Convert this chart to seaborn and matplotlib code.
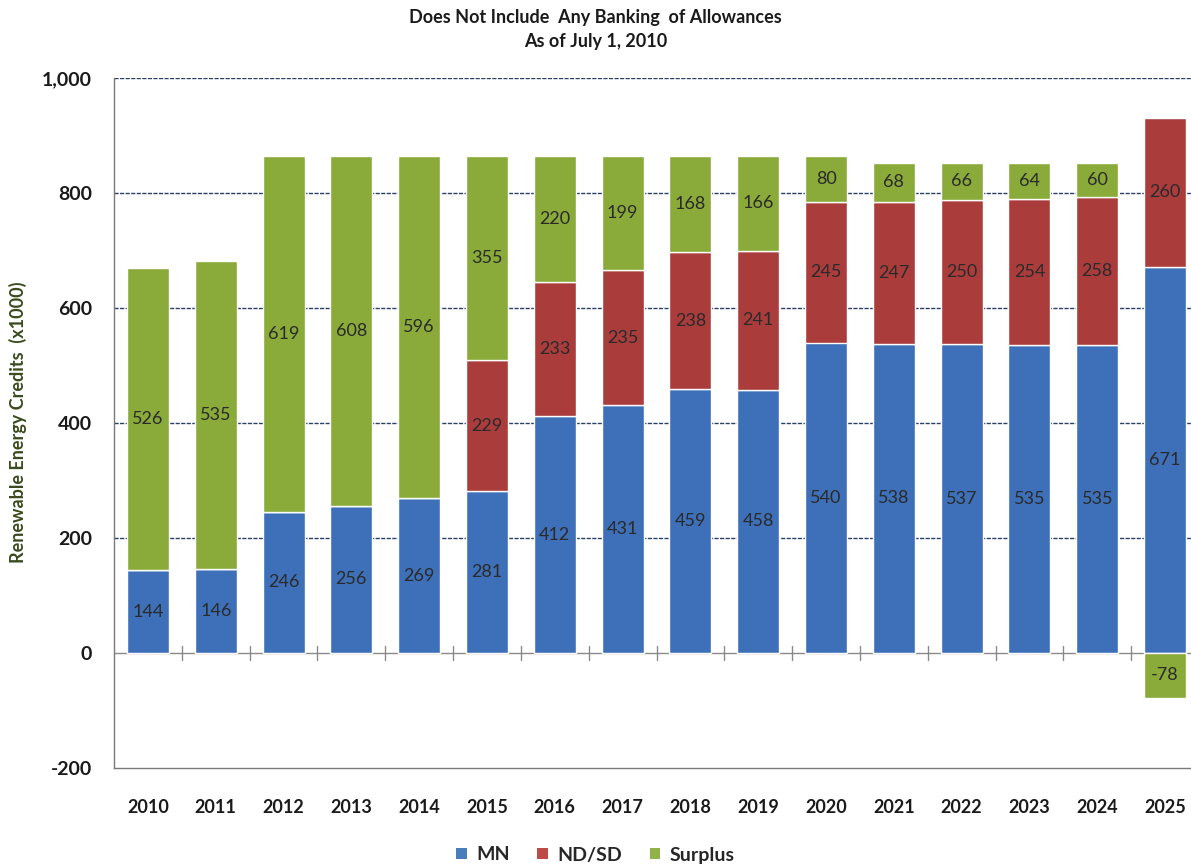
import numpy as np
import pandas as pd
import matplotlib
matplotlib.use("Agg")
import matplotlib.pyplot as plt
import seaborn as sns
from matplotlib.patches import Patch

years = ["2010", "2011", "2012", "2013", "2014", "2015", "2016", "2017",
         "2018", "2019", "2020", "2021", "2022", "2023", "2024", "2025"]
mn = [144, 146, 246, 256, 269, 281, 412, 431, 459, 458, 540, 538, 537, 535, 535, 671]
ndsd = [0, 0, 0, 0, 0, 229, 233, 235, 238, 241, 245, 247, 250, 254, 258, 260]
surplus = [526, 535, 619, 608, 596, 355, 220, 199, 168, 166, 80, 68, 66, 64, 60, -78]

series_names = ["MN", "ND/SD", "Surplus"]
colors = ["#3d70b8", "#ab3c3c", "#8aaa3a"]
legend_colors = ["#4a7ebb", "#be4b48", "#8fb24a"]
yticks = [-200, 0, 200, 400, 600, 800, 1000]
ytick_labels = ["-200", "0", "200", "400", "600", "800", "1,000"]

sns.set_theme(style="white")
plt.rcParams["font.family"] = ["Lato", "DejaVu Sans"]

df = pd.DataFrame({"year": years, "MN": mn, "ND/SD": ndsd, "Surplus": surplus})
mn_arr = np.array(mn, dtype=float)
nd_arr = np.array(ndsd, dtype=float)
sp_arr = np.array(surplus, dtype=float)

# stacking: positive surplus sits on MN + ND/SD, negative surplus hangs below zero
bottoms = {
    "MN": np.zeros(len(years)),
    "ND/SD": mn_arr,
    "Surplus": np.where(sp_arr >= 0, mn_arr + nd_arr, 0.0),
}

fig = plt.figure(figsize=(11.91, 8.67), dpi=100)
ax = fig.add_axes([114 / 1191, 99 / 867, (1199 - 114) / 1191, 690 / 867])

width = 0.62
for name, col in zip(series_names, colors):
    sns.barplot(data=df, x="year", y=name, bottom=bottoms[name], color=col,
                width=width, edgecolor="white", linewidth=1.0, saturation=1,
                ax=ax, zorder=3)

ax.set_ylim(-200, 1000)
ax.set_xlim(-0.5, len(years) - 0.5)

# dashed gridlines
for v in [200, 400, 600, 800, 1000]:
    ax.axhline(v, color="#2a3f66", lw=1.0, ls=(0, (3, 1)), zorder=1)
ax.axhline(0, color="#8a8a8a", lw=1.0, zorder=2)
for b in np.arange(0.5, len(years) - 0.5, 1.0):
    ax.plot([b, b], [-12, 12], color="#8a8a8a", lw=1.0, zorder=2)

for s in ["top", "right"]:
    ax.spines[s].set_visible(False)
for s in ["left", "bottom"]:
    ax.spines[s].set_color("#7a7a7a")
    ax.spines[s].set_linewidth(1.0)

ax.set_yticks(yticks)
ax.set_yticklabels(ytick_labels, fontsize=14, fontweight="bold", color="#1a1a1a")
ax.set_xticks(range(len(years)))
ax.set_xticklabels(years, fontsize=13, fontweight="bold", color="#1a1a1a")
ax.tick_params(axis="y", length=0, pad=16)
ax.tick_params(axis="x", length=0, pad=22)
ax.set_xlabel("")
ax.set_ylabel("")
fig.text(18 / 1191, 1 - 422 / 867, "Renewable Energy Credits  (x1000)", rotation=90,
         ha="center", va="center", fontsize=13, fontweight="bold", color="#3b4a1e")

# value labels centered in each segment
for name in series_names:
    vals = df[name].to_numpy(dtype=float)
    for i, v in enumerate(vals):
        if v == 0:
            continue
        y = bottoms[name][i] + v / 2
        ax.text(i, y, f"{int(v)}", ha="center", va="center", fontsize=13,
                color="#2a2a2a", zorder=5)

fig.text(0.5, 1 - 17 / 867, "Does Not Include  Any Banking  of Allowances",
         ha="center", va="center", fontsize=13, fontweight="bold", color="#1a1a1a")
fig.text(0.5, 1 - 42 / 867, "As of July 1, 2010",
         ha="center", va="center", fontsize=13, fontweight="bold", color="#1a1a1a")

handles = [Patch(facecolor=c, edgecolor="none", label=n)
           for n, c in zip(series_names, legend_colors)]
fig.legend(handles=handles, loc="center", bbox_to_anchor=(0.5, 1 - 855 / 867),
           ncol=3, frameon=False, prop={"weight": "bold", "size": 14},
           handlelength=0.55, handleheight=0.55, handletextpad=0.5, columnspacing=1.4)

fig.savefig("out.png", dpi=100)
